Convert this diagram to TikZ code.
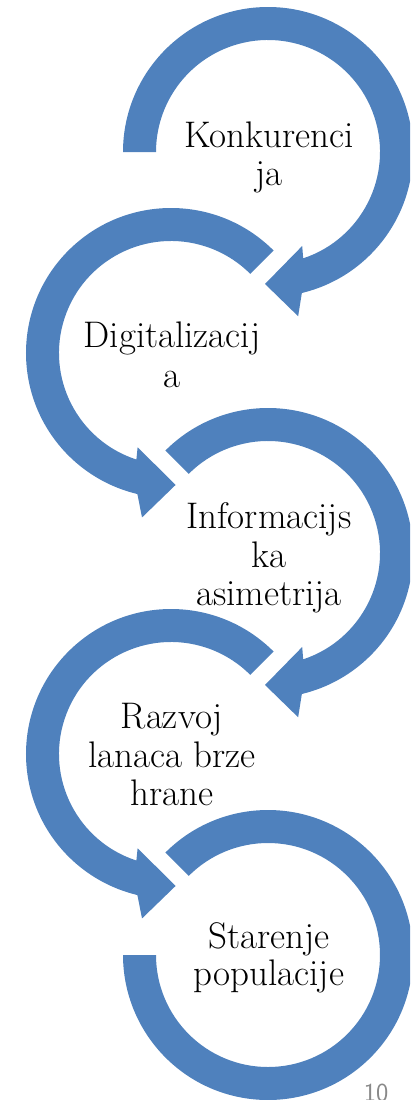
\documentclass[tikz,border=0pt]{standalone}
\usepackage{tikz}
\definecolor{ringblue}{RGB}{79,129,189}
\definecolor{numgray}{RGB}{137,137,137}
\tikzset{
  ring/.style={fill=ringblue},
  lbl/.style={font=\fontsize{37}{40}\selectfont, anchor=base, inner sep=0pt},
}

\begin{document}
\begin{tikzpicture}[x=1pt,y=1pt]
\useasboundingbox (0,0) rectangle (410,-1100);
\clip (0,0) rectangle (410,-1100);

% first one (right)
\begin{scope}[shift={(268,-152)}]
\fill[ring] (180:145pt) arc[start angle=180, end angle=-76.5, radius=145pt] -- (-79.6:167pt) -- (-91.3:132pt) -- (-70:100pt) -- (-71.7:112pt) arc[start angle=-71.7, end angle=180, radius=112pt] -- cycle;
\end{scope}
\node[lbl] (konk1) at (269,-147) {Konkurenci};
\node[lbl] (konk2) at (269,-185) {ja};

% second one (left)
\begin{scope}[shift={(171,-353)}]
\fill[ring] (45:145pt) arc[start angle=45, end angle=256.6, radius=145pt] -- (260:167pt) -- (272:132pt) -- (250.5:100pt) -- (252:112pt) arc[start angle=252, end angle=45, radius=112pt] -- cycle;
\end{scope}
\node[lbl] (digit1) at (172,-347) {Digitalizacij};
\node[lbl] (digit2) at (172,-387) {a};

% third one (right)
\begin{scope}[shift={(268,-553)}]
\fill[ring] (135:145pt) arc[start angle=135, end angle=-76.5, radius=145pt] -- (-79.6:167pt) -- (-91.3:132pt) -- (-70:100pt) -- (-71.7:112pt) arc[start angle=-71.7, end angle=135, radius=112pt] -- cycle;
\end{scope}
\node[lbl] (info1) at (269,-528) {Informacijs};
\node[lbl] (info2) at (269,-567) {ka};
\node[lbl] (info3) at (269,-605) {asimetrija};

% fourth one (left)
\begin{scope}[shift={(171,-754)}]
\fill[ring] (45:145pt) arc[start angle=45, end angle=256.6, radius=145pt] -- (260:167pt) -- (272:132pt) -- (250.5:100pt) -- (252:112pt) arc[start angle=252, end angle=45, radius=112pt] -- cycle;
\end{scope}
\node[lbl] (razvoj1) at (172,-728) {Razvoj};
\node[lbl] (razvoj2) at (172,-767) {lanaca brze};
\node[lbl] (razvoj3) at (172,-805) {hrane};

% last one (right, no head)
\begin{scope}[shift={(268,-955)}]
\fill[ring] (135:145pt) arc[start angle=135, end angle=-180, radius=145pt] -- (-180:112pt) arc[start angle=-180, end angle=135, radius=112pt] -- cycle;
\end{scope}
\node[lbl] (star1) at (269,-948) {Starenje};
\node[lbl] (star2) at (269,-985) {populacije};

% slide number
\node[anchor=base, inner sep=0pt, text=numgray, font=\sffamily\fontsize{26}{30}\selectfont] (slidenum) at (376,-1101) {10};
\end{tikzpicture}
\end{document}
